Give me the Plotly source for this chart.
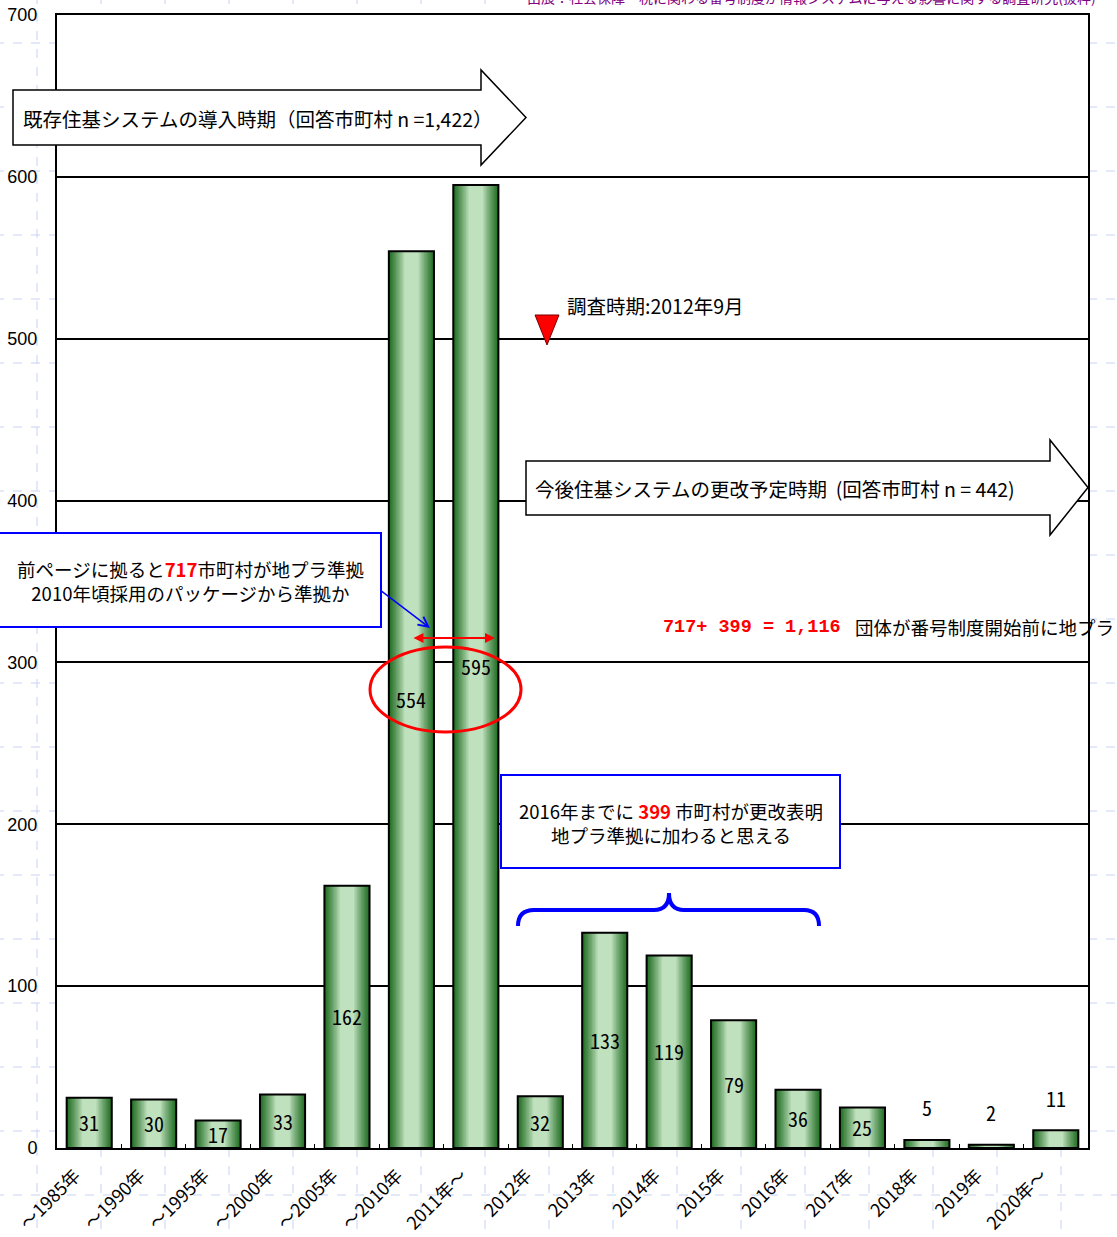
import plotly.graph_objects as go

# ---- data -------------------------------------------------------------
categories = ["～1985年", "～1990年", "～1995年", "～2000年", "～2005年", "～2010年",
              "2011年～", "2012年", "2013年", "2014年", "2015年", "2016年",
              "2017年", "2018年", "2019年", "2020年～"]
counts = [31, 30, 17, 33, 162, 554, 595, 32, 133, 119, 79, 36, 25, 5, 2, 11]
y_ticks = [0, 100, 200, 300, 400, 500, 600, 700]

# ---- page / plot box (pixels) ------------------------------------------
PAGE_W, PAGE_H = 1117, 1237
PL, PR, PT, PB = 57, 1088, 15, 1148


def xp(px):
    return (px - PL) / (PR - PL)


def yp(py):
    return (PB - py) / (PB - PT)


def path_from(points, closed=True):
    s = "M " + " L ".join(f"{xp(x):.5f},{yp(y):.5f}" for x, y in points)
    return s + (" Z" if closed else "")


CJK = "Noto Sans CJK JP, Noto Sans, sans-serif"
NUM = "Liberation Sans, Arial, sans-serif"
MONO = "Noto Sans Mono CJK JP, Liberation Mono, DejaVu Sans Mono, monospace"
MONO_W = "Liberation Mono, DejaVu Sans Mono, monospace"

fig = go.Figure()

# ---- cylinder-like shaded bars: nested layers from dark edge to light core
BAR_W = 0.7
DARK = (28, 106, 30)
LIGHT = (192, 225, 190)
N_LAYERS = 16
for k in range(N_LAYERS):
    frac = 1 - k / N_LAYERS
    t = frac - 0.5 / N_LAYERS
    s = min(max((t - 0.3) / 0.7, 0.0), 1.0) ** 0.85
    col = tuple(round(LIGHT[i] + (DARK[i] - LIGHT[i]) * s) for i in range(3))
    fig.add_trace(go.Bar(
        x=categories, y=counts, width=BAR_W * frac,
        marker=dict(color=f"rgb{col}", line=dict(width=0)),
        hoverinfo="skip", showlegend=False,
    ))
# outline
fig.add_trace(go.Bar(
    x=categories, y=counts, width=BAR_W,
    marker=dict(color="rgba(0,0,0,0)", line=dict(color="black", width=2)),
    hovertemplate="%{x}: %{y}<extra></extra>", showlegend=False,
))

annotations = []
shapes = []


def note(x, y, text, size=19, color="black", family=CJK, xanchor="center"):
    annotations.append(dict(xref="paper", yref="paper", x=xp(x), y=yp(y), text=text,
                            xanchor=xanchor, yanchor="middle", showarrow=False,
                            font=dict(family=family, size=size, color=color)))


# value labels
for c, v in zip(categories, counts):
    if v >= 15:
        annotations.append(dict(x=c, y=v / 2, xref="x", yref="y", text=str(v),
                                xanchor="center", yanchor="middle", showarrow=False,
                                font=dict(family=MONO, size=20, color="black")))
    else:
        annotations.append(dict(x=c, y=v, xref="x", yref="y", text=str(v), yshift=32,
                                xanchor="center", yanchor="middle", showarrow=False,
                                font=dict(family=MONO, size=20, color="black")))

# ---- faint spreadsheet cell grid around the chart -----------------------
GRID = dict(color="#c9d3f4", width=1, dash="dash")


def grid_seg(x0, y0, x1, y1):
    shapes.append(dict(type="line", xref="paper", yref="paper", layer="below",
                       x0=xp(x0), x1=xp(x1), y0=yp(y0), y1=yp(y1), line=GRID))


gx = 37
while gx < PAGE_W:
    if gx < PL or gx > PR:
        grid_seg(gx, -5, gx, PAGE_H + 5)
    else:
        grid_seg(gx, -5, gx, PT)
        grid_seg(gx, PB, gx, PAGE_H + 5)
    gx += 64
gy = 43
while gy < PAGE_H:
    if gy < PT or gy > PB:
        grid_seg(-5, gy, PAGE_W + 5, gy)
    else:
        grid_seg(-5, gy, PL, gy)
        grid_seg(PR, gy, PAGE_W + 5, gy)
    gy += 64

# ---- block arrows -------------------------------------------------------
arrow1 = [(13, 90), (481, 90), (481, 70), (526, 117.5), (481, 165), (481, 145), (13, 145)]
arrow2 = [(526, 461), (1050, 461), (1050, 440), (1088, 487.5), (1050, 535), (1050, 515), (526, 515)]
for pts in (arrow1, arrow2):
    shapes.append(dict(type="path", xref="paper", yref="paper", path=path_from(pts),
                       fillcolor="white", line=dict(color="black", width=1.5), layer="above"))
note(21, 118, "既存住基システムの導入時期（回答市町村 n =1,422）", size=19.5, xanchor="left")
note(533, 488, "今後住基システムの更改予定時期  (回答市町村 n = 442)", size=19.5, xanchor="left")

# ---- survey date marker -------------------------------------------------
shapes.append(dict(type="path", xref="paper", yref="paper", layer="above",
                   path=path_from([(535, 315), (559, 315), (547, 345)]),
                   fillcolor="#ff0000", line=dict(color="#7a0000", width=1)))
note(565, 306, "調査時期:2012年9月", size=19.5, xanchor="left")

# ---- callout box: 717 ---------------------------------------------------
shapes.append(dict(type="rect", xref="paper", yref="paper", layer="above",
                   x0=xp(-5), x1=xp(381), y0=yp(627), y1=yp(533),
                   fillcolor="white", line=dict(color="#0000ff", width=2)))
note(190, 581, "前ページに拠ると<span style='color:#ff0000'><b>717</b></span>市町村が地プラ準拠"
     "<br>2010年頃採用のパッケージから準拠か", size=18.5)
annotations.append(dict(xref="paper", yref="paper", x=xp(430), y=yp(628), ax=-50, ay=-38,
                        text="", showarrow=True, arrowhead=5, arrowsize=1.3, arrowwidth=1.5,
                        arrowcolor="#0000ff", standoff=0))

# ---- red double arrow and ellipse --------------------------------------
annotations.append(dict(xref="paper", yref="paper", x=xp(495), y=yp(638), ax=-83, ay=0,
                        text="", showarrow=True, arrowside="end+start", arrowhead=2,
                        startarrowhead=2, arrowsize=1, startarrowsize=1, arrowwidth=2,
                        arrowcolor="#ff0000", standoff=0, startstandoff=0))
shapes.append(dict(type="circle", xref="paper", yref="paper", layer="above",
                   x0=xp(370), x1=xp(521), y0=yp(732), y1=yp(647),
                   line=dict(color="#ff0000", width=3)))

# ---- total statement ----------------------------------------------------
note(843, 627, "<b>717+ 399 = 1,116</b>", size=18.5, color="#ff0000", family=MONO_W, xanchor="right")
note(853, 627, "団体が番号制度開始前に地プラ", size=18.5, xanchor="left")

# ---- callout box: 399 ---------------------------------------------------
shapes.append(dict(type="rect", xref="paper", yref="paper", layer="above",
                   x0=xp(501), x1=xp(840), y0=yp(868), y1=yp(775),
                   fillcolor="white", line=dict(color="#0000ff", width=2)))
note(671, 823, "2016年までに <span style='color:#ff0000'><b>399</b></span> 市町村が更改表明"
     "<br>地プラ準拠に加わると思える", size=18.5)

# curly brace over 2012–2016
brace = (f"M {xp(518):.5f},{yp(926):.5f} Q {xp(518):.5f},{yp(910):.5f} {xp(534):.5f},{yp(910):.5f} "
         f"L {xp(654):.5f},{yp(910):.5f} Q {xp(669):.5f},{yp(910):.5f} {xp(669):.5f},{yp(893):.5f} "
         f"Q {xp(669):.5f},{yp(910):.5f} {xp(684):.5f},{yp(910):.5f} "
         f"L {xp(804):.5f},{yp(910):.5f} Q {xp(819):.5f},{yp(910):.5f} {xp(819):.5f},{yp(926):.5f}")
shapes.append(dict(type="path", xref="paper", yref="paper", layer="above", path=brace,
                   line=dict(color="#0000ff", width=4)))

# source line at the very top edge
note(525, -3, "出展：社会保障・税に関わる番号制度が情報システムに与える影響に関する調査研究(抜粋)",
     size=14, color="#800080", xanchor="left")

fig.update_layout(
    width=PAGE_W, height=PAGE_H,
    margin=dict(l=PL, r=PAGE_W - PR, t=PT, b=PAGE_H - PB, pad=0),
    paper_bgcolor="white", plot_bgcolor="white",
    barmode="overlay", bargap=0.3,
    annotations=annotations, shapes=shapes,
    showlegend=False,
)
fig.update_xaxes(
    type="category", categoryorder="array", categoryarray=categories,
    range=[-0.5, len(categories) - 0.5], automargin=False,
    showline=True, linecolor="black", linewidth=2, mirror=True,
    showgrid=False, ticks="inside", tickson="boundaries", ticklen=4, tickcolor="black",
    tickangle=-45, ticklabelshift=-14, ticklabelstandoff=8,
    tickfont=dict(family=CJK, size=18, color="black"),
)
fig.update_yaxes(
    range=[0, 700], tickvals=y_ticks, automargin=False,
    showline=True, linecolor="black", linewidth=2, mirror=True,
    showgrid=True, gridcolor="black", gridwidth=1.5, zeroline=False,
    ticks="", ticklabelstandoff=14, tickfont=dict(family=NUM, size=18, color="black"),
)

fig.write_html("out.html")
